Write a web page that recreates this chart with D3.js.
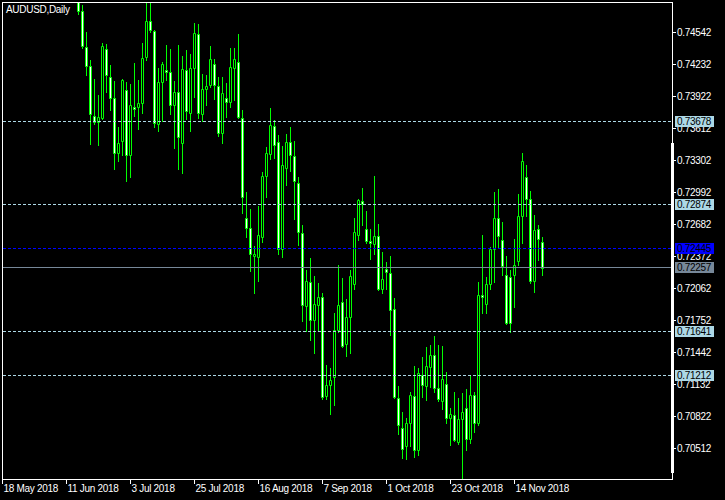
<!DOCTYPE html>
<html><head><meta charset="utf-8">
<script src="https://cdn.jsdelivr.net/npm/d3@7"></script>
<style>
html,body{margin:0;padding:0;background:#000;}
svg{display:block;}
text{letter-spacing:-0.3px;}
</style></head><body>
<svg id="chart" width="725" height="500"></svg>
<script>
const symbolTitle = "AUDUSD,Daily";
const firstDay = "2018-06-14";
const open = [0.7490,0.74745,0.74396,0.74215,0.73730,0.73672,0.73710,0.74377,0.74105,0.73898,
0.73374,0.73490,0.73982,0.73349,0.73814,0.73814,0.73853,0.74299,0.74648,0.74551,
0.73652,0.74057,0.74173,0.74154,0.73839,0.73960,0.73465,0.74173,0.73762,0.74192,
0.74522,0.73746,0.73989,0.74028,0.74231,0.74018,0.73562,0.73902,0.73863,0.74192,
0.74251,0.73707,0.72737,0.72646,0.72375,0.72358,0.72559,0.73145,0.73358,0.73630,
0.73475,0.72437,0.73223,0.73475,0.73339,0.73077,0.72592,0.71884,0.72117,0.71748,
0.71894,0.71971,0.71017,0.71124,0.71195,0.71657,0.71923,0.71521,0.71777,0.72097,
0.72571,0.72902,0.72631,0.72514,0.72485,0.72563,0.72055,0.72243,0.72204,0.71855,
0.71001,0.70710,0.70536,0.70759,0.71011,0.70493,0.71215,0.71108,0.71293,0.71409,
0.71098,0.70972,0.71128,0.70807,0.70836,0.70574,0.70797,0.70904,0.70603,0.71030,
0.70759,0.71991,0.71903,0.72097,0.72437,0.72737,0.72524,0.72184,0.72165,0.72185,
0.72320,0.72757,0.73135,0.72922,0.72126,0.72631,0.72505];
const high = [0.7500,0.74807,0.74545,0.74273,0.74089,0.73931,0.74438,0.74425,0.74225,0.74069,
0.73623,0.74089,0.74057,0.74040,0.74241,0.74079,0.74435,0.74829,0.74829,0.74564,
0.74192,0.74254,0.74416,0.74377,0.74069,0.74416,0.74312,0.74370,0.74331,0.74632,
0.74622,0.74137,0.74125,0.74402,0.74280,0.74105,0.74105,0.74047,0.74389,0.74389,
0.74525,0.73788,0.72993,0.72828,0.72469,0.72857,0.73187,0.73429,0.73810,0.73691,
0.73543,0.73436,0.73555,0.73623,0.73484,0.73135,0.72670,0.72233,0.72349,0.72175,
0.72107,0.72013,0.71312,0.71283,0.71816,0.72282,0.72155,0.71952,0.72233,0.72737,
0.72922,0.73028,0.72805,0.72631,0.73148,0.72679,0.72408,0.72311,0.72369,0.71961,
0.71108,0.70865,0.70807,0.71050,0.71302,0.71283,0.71389,0.71487,0.71506,0.71593,
0.71506,0.71496,0.71244,0.70904,0.71059,0.70992,0.71040,0.71079,0.71215,0.71059,
0.72117,0.72571,0.72165,0.72456,0.72990,0.73019,0.72699,0.72369,0.72233,0.72534,
0.72970,0.73368,0.73252,0.73000,0.72767,0.72670,0.72553];
const low = [0.74712,0.74383,0.74130,0.73458,0.73652,0.73451,0.73704,0.73956,0.73788,0.73219,
0.73296,0.73349,0.73102,0.73141,0.73730,0.73607,0.73756,0.74266,0.74545,0.73626,
0.73587,0.73675,0.74079,0.73749,0.73419,0.73219,0.73174,0.73704,0.73587,0.73917,
0.73707,0.73679,0.73839,0.74008,0.73892,0.73536,0.73471,0.73723,0.73814,0.73885,
0.73707,0.72792,0.72553,0.72229,0.72016,0.72132,0.72510,0.72947,0.73316,0.73325,
0.72391,0.72365,0.73064,0.73199,0.72734,0.72481,0.71744,0.71647,0.71560,0.71434,
0.71647,0.70982,0.70982,0.70842,0.70929,0.71637,0.71486,0.71405,0.71434,0.72055,
0.72527,0.72670,0.72495,0.72346,0.72394,0.72045,0.72016,0.72055,0.71608,0.71001,
0.70652,0.70415,0.70405,0.70536,0.70425,0.70448,0.71007,0.70978,0.71104,0.71059,
0.70972,0.70885,0.70759,0.70545,0.70584,0.70555,0.70218,0.70497,0.70564,0.70671,
0.70730,0.71816,0.71816,0.72049,0.72117,0.72446,0.72184,0.71710,0.71632,0.71874,
0.72282,0.72495,0.72760,0.72107,0.72020,0.72330,0.72184];
const close = [0.74742,0.74402,0.74208,0.73749,0.73672,0.73720,0.74409,0.74130,0.73898,0.73368,
0.73465,0.74079,0.73349,0.73839,0.73795,0.73853,0.74290,0.74648,0.74557,0.73659,
0.74057,0.74231,0.74150,0.73839,0.73960,0.73523,0.74183,0.73772,0.74192,0.74532,
0.73756,0.73989,0.74018,0.74280,0.74028,0.73568,0.73950,0.73863,0.74202,0.74280,
0.73717,0.72947,0.72646,0.72388,0.72391,0.72571,0.73145,0.73368,0.73640,0.73446,
0.72437,0.73252,0.73475,0.73349,0.73096,0.72602,0.71894,0.72126,0.71748,0.71903,
0.71971,0.71007,0.71118,0.71166,0.71657,0.71894,0.71502,0.71777,0.72175,0.72602,
0.72912,0.72873,0.72514,0.72495,0.72563,0.72055,0.72146,0.72214,0.71845,0.71007,
0.70739,0.70506,0.70759,0.71021,0.70497,0.71234,0.71118,0.71302,0.71409,0.71089,
0.70982,0.71185,0.70807,0.70846,0.70594,0.70797,0.70865,0.70603,0.71030,0.70759,
0.71991,0.71971,0.72097,0.72437,0.72737,0.72563,0.72272,0.71719,0.71719,0.72282,
0.72757,0.73290,0.72922,0.72126,0.72621,0.72534,0.72257];

const priceTicks = [0.74542,0.74232,0.73922,0.73612,0.73302,0.72992,0.72682,0.72372,0.72062,0.71752,0.71442,0.71132,0.70822,0.70512];
const dateTickLabels = ["18 May 2018","11 Jun 2018","3 Jul 2018","25 Jul 2018","16 Aug 2018","7 Sep 2018","1 Oct 2018","23 Oct 2018","14 Nov 2018"];
const levelLines = [0.73678,0.72874,0.71641,0.71212];
const blueLine = 0.72445;
const bidLine = 0.72257;

const FONT = '"Liberation Sans", Arial, sans-serif';
const W = 725, H = 500;
const svg = d3.select("#chart");
svg.append("rect").attr("width", W).attr("height", H).attr("fill", "#000");

const days = d3.timeDay.range(new Date(2018, 4, 18), new Date(2018, 10, 24))
  .filter(d => d.getDay() !== 0 && d.getDay() !== 6);
const fmtKey = d3.timeFormat("%Y-%m-%d");
const fmtLabel = d3.timeFormat("%-d %b %Y");
const dayIndex = new Map(days.map((d, i) => [fmtKey(d), i]));
const start = dayIndex.get(firstDay);
const bars = open.map((o, k) => ({ i: start + k, o, h: high[k], l: low[k], c: close[k] }));

const x = d3.scaleLinear().domain([0, 167.5]).range([2, 672]);
const y = d3.scaleLinear().domain([0.70512, 0.74542]).range([448, 32]);

svg.append("defs").append("clipPath").attr("id", "clip")
  .append("rect").attr("x", 3).attr("y", 3).attr("width", 669).attr("height", 476);

const g = svg.append("g").attr("clip-path", "url(#clip)");
const cg = g.selectAll("g.candle").data(bars).join("g").attr("class", "candle");
cg.append("rect")
  .attr("x", d => Math.round(x(d.i)))
  .attr("y", d => Math.round(y(d.h)))
  .attr("width", 1)
  .attr("height", d => Math.max(1, Math.round(y(d.l)) - Math.round(y(d.h)) + 1))
  .attr("fill", "#00ff00");
cg.append("path")
  .attr("d", d => {
    const cx = Math.round(x(d.i));
    const yt = Math.round(y(Math.max(d.o, d.c)));
    const yb = Math.round(y(Math.min(d.o, d.c)));
    return `M${cx - 0.5},${yt + 0.5}h2v${yb - yt}h-2Z`;
  })
  .attr("fill", d => d.c < d.o ? "#ffffff" : "#000000")
  .attr("stroke", "#00ff00")
  .attr("stroke-width", 1);

// level lines
const lg = svg.append("g");
lg.selectAll("line.lvl").data(levelLines).join("line")
  .attr("x1", 3).attr("x2", 672)
  .attr("y1", d => Math.floor(y(d)) + 0.5).attr("y2", d => Math.floor(y(d)) + 0.5)
  .attr("stroke", "#add8e6").attr("stroke-dasharray", "3,2");
lg.append("line")
  .attr("x1", 3).attr("x2", 672)
  .attr("y1", Math.floor(y(blueLine)) + 0.5).attr("y2", Math.floor(y(blueLine)) + 0.5)
  .attr("stroke", "#0000ff").attr("stroke-dasharray", "3,2");
lg.append("line")
  .attr("x1", 3).attr("x2", 672)
  .attr("y1", Math.floor(y(bidLine)) + 0.5).attr("y2", Math.floor(y(bidLine)) + 0.5)
  .attr("stroke", "#778899");

// frame
svg.append("rect").attr("x", 2.5).attr("y", 2.5).attr("width", 670).attr("height", 477)
  .attr("fill", "none").attr("stroke", "#fff");
svg.append("rect").attr("x", 671).attr("y", 143).attr("width", 3).attr("height", 330).attr("fill", "#fff");

// right axis
const yAxis = d3.axisRight(y).tickValues(priceTicks).tickFormat(d3.format(".5f")).tickSize(4).tickSizeOuter(0);
const ga = svg.append("g").attr("transform", "translate(672,0)").call(yAxis);
ga.select(".domain").remove();
ga.selectAll(".tick line").attr("stroke", "#fff");
ga.selectAll(".tick text").attr("fill", "#fff").attr("x", 5)
  .attr("font-family", FONT).attr("font-size", 10);
ga.attr("font-family", FONT).attr("font-size", 10);

// price labels
function priceLabel(v, bg) {
  const yy = Math.floor(y(v));
  svg.append("rect").attr("x", 675).attr("y", yy - 5).attr("width", 39).attr("height", 11).attr("fill", bg);
  svg.append("text").attr("x", 677).attr("y", yy + 4).attr("fill", "#000")
    .attr("font-family", FONT).attr("font-size", 10).text(d3.format(".5f")(v));
}
levelLines.forEach(v => priceLabel(v, "#add8e6"));
priceLabel(blueLine, "#0000ff");
priceLabel(bidLine, "#778899");

// bottom axis
const tickIdx = dateTickLabels.map(l => days.findIndex(d => fmtLabel(d) === l));
const xAxis = d3.axisBottom(x).tickValues(tickIdx).tickFormat((d, k) => dateTickLabels[k]).tickSize(4).tickSizeOuter(0);
const gx = svg.append("g").attr("transform", "translate(0,480)").call(xAxis);
gx.select(".domain").remove();
gx.attr("font-family", FONT).attr("font-size", 10);
gx.selectAll(".tick line").attr("stroke", "#fff");
gx.selectAll(".tick text").attr("fill", "#fff").attr("text-anchor", "start")
  .attr("x", 1).attr("y", 12).attr("dy", 0);

// title
svg.append("text").attr("x", 6).attr("y", 13).attr("fill", "#fff")
  .attr("font-family", FONT).attr("font-size", 10).text(symbolTitle);
</script>
</body></html>
